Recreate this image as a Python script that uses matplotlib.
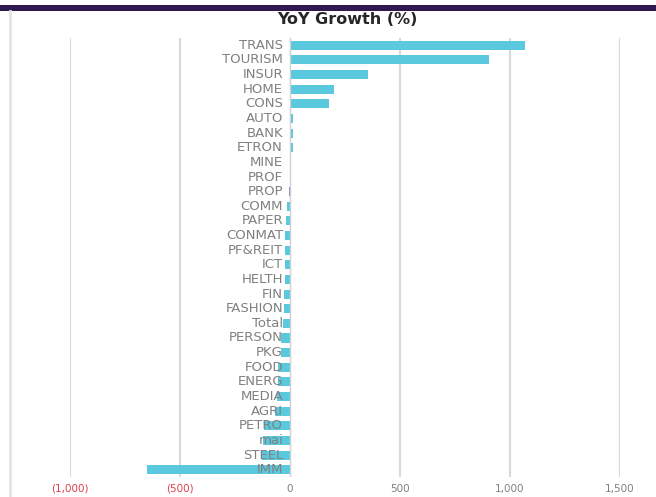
import matplotlib
matplotlib.use("Agg")
import matplotlib.pyplot as plt
import matplotlib.transforms as mtransforms
from matplotlib.patches import Rectangle
from matplotlib.lines import Line2D

# Sector YoY growth (%), ordered from highest to lowest
sectors = ["TRANS", "TOURISM", "INSUR", "HOME", "CONS", "AUTO", "BANK", "ETRON",
           "MINE", "PROF", "PROP", "COMM", "PAPER", "CONMAT", "PF&REIT", "ICT",
           "HELTH", "FIN", "FASHION", "Total", "PERSON", "PKG", "FOOD", "ENERG",
           "MEDIA", "AGRI", "PETRO", "mai", "STEEL", "IMM"]
growth = [1068, 905, 355, 200, 177, 15, 14, 12,
          3, 2, -6, -12, -20, -22, -23, -24,
          -25, -26, -28, -30, -40, -42, -55, -56,
          -60, -68, -120, -125, -128, -650]
highlight = ["PROP"]

x_ticks = [-1000, -500, 0, 500, 1000, 1500]
x_tick_labels = ["(1,000)", "(500)", "0", "500", "1,000", "1,500"]

BAR = "#5BC9DD"
HIGHLIGHT = "#8C7BB8"
GRID = "#D9D9D9"
LABEL = "#808080"
NEG = "#E04050"

W, H = 656, 497
fig = plt.figure(figsize=(W / 100, H / 100), dpi=100)
fig.patch.set_facecolor("white")

# Frame decorations: dark band on top, faint rule on the left
fig.patches.append(Rectangle((0, 1 - 11 / H), 1, 6 / H, transform=fig.transFigure,
                             facecolor="#2E1A4F", edgecolor="none"))
fig.lines.append(Line2D([10 / W, 10 / W], [0, 1 - 11 / H], transform=fig.transFigure,
                        color="#E3E3E3", lw=2))

ax = fig.add_axes([70 / W, 1 - 477 / H, 550 / W, 439 / H])
ypos = list(range(len(sectors)))
colors = [HIGHLIGHT if s in highlight else BAR for s in sectors]
ax.barh(ypos, growth, height=0.62, color=colors, zorder=2)

ax.set_xlim(-1000, 1500)
ax.set_ylim(len(sectors) - 0.5, -0.5)
ax.set_xticks(x_ticks)
ax.set_xticklabels(x_tick_labels)
ax.set_yticks([])
for spine in ax.spines.values():
    spine.set_visible(False)
ax.tick_params(axis="x", length=0, pad=5, labelsize=7.5)
for lbl, val in zip(ax.get_xticklabels(), x_ticks):
    lbl.set_color(NEG if val < 0 else LABEL)

for v in x_ticks:
    if v != 0:
        ax.axvline(v, color=GRID, lw=1.5, zorder=0)
ax.axvline(0, color="#D0D0D0", lw=1.0, zorder=3)

# Category names sit just left of the zero line, over the bars
trans = mtransforms.offset_copy(ax.transData, fig=fig, x=-7, y=0, units="dots")
for i, name in enumerate(sectors):
    ax.text(0, i, name, transform=trans, ha="right", va="center",
            fontsize=9.5, color=LABEL, zorder=4)

fig.text(347 / W, 1 - 20 / H, "YoY Growth (%)", ha="center", va="center",
         fontsize=11.5, fontweight="bold", color="#262626")

fig.savefig("out.png", dpi=100, facecolor="white")
